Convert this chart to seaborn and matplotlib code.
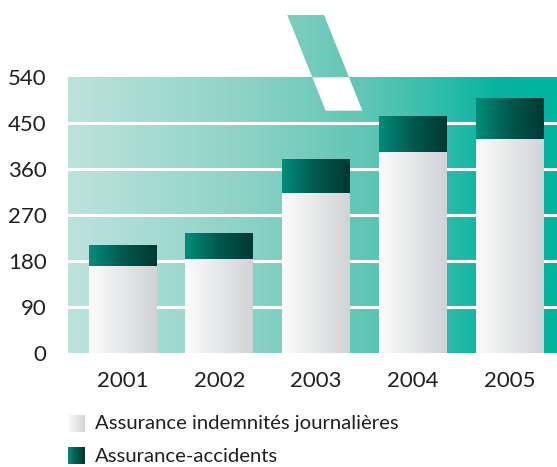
import numpy as np
import pandas as pd
import matplotlib
matplotlib.use("Agg")
import matplotlib.pyplot as plt
from matplotlib.colors import LinearSegmentedColormap
from matplotlib.patches import Polygon
import seaborn as sns

# Data (millions)
years = ["2001", "2002", "2003", "2004", "2005"]
indemnites = [170, 184, 313, 393, 419]
accidents = [41, 51, 67, 71, 80]
yticks = [0, 90, 180, 270, 360, 450, 540]
label_indemnites = "Assurance indemnités journalières"
label_accidents = "Assurance-accidents"

df = pd.DataFrame({
    "annee": years,
    "indemnites": indemnites,
    "total": [a + b for a, b in zip(indemnites, accidents)],
})

sns.set_theme(style="white")
plt.rcParams["font.family"] = ["Lato", "DejaVu Sans"]
TXT = "#231f20"

W, H = 557, 467
fig = plt.figure(figsize=(W / 100, H / 100), dpi=100)
fig.patch.set_facecolor("white")

# plot area in pixels
L, R, T, B = 68, 557, 77.3, 352.7
ax = fig.add_axes([L / W, 1 - B / H, (R - L) / W, (B - T) / H])

bg_cmap = LinearSegmentedColormap.from_list(
    "bg",
    [(0.0, "#bde3dd"), (0.37, "#8bd2c5"), (0.62, "#5dc5b4"),
     (0.76, "#30bdab"), (0.88, "#06b49f"), (1.0, "#00b39c")],
)
white_cmap = LinearSegmentedColormap.from_list("wb", ["#fcfcfc", "#e6e7e8", "#d2d3d5"])
green_cmap = LinearSegmentedColormap.from_list("gb", ["#008d7b", "#00594d", "#003833"])
hgrad = np.linspace(0, 1, 256).reshape(1, -1)

# stacked bars: full total first, the daily-allowance part over it
sns.barplot(data=df, x="annee", y="total", color="#00594d", width=0.70,
            ax=ax, saturation=1, linewidth=0, zorder=2)
n_tot = len(ax.patches)
sns.barplot(data=df, x="annee", y="indemnites", color="#e6e7e8", width=0.70,
            ax=ax, saturation=1, linewidth=0, zorder=3)

xlim = (-0.562, 4.485)
ylim = (0, 540)

# background gradient across the plotting area
ax.imshow(hgrad, extent=[xlim[0], xlim[1], ylim[0], ylim[1]], cmap=bg_cmap,
          aspect="auto", zorder=0, interpolation="bicubic")
for v in yticks[1:-1]:
    ax.axhline(v, color="white", lw=2.2, zorder=1)

# horizontal gradient fill inside each bar
for i, p in enumerate(ax.patches):
    x, y, w, h = p.get_x(), p.get_y(), p.get_width(), p.get_height()
    cmap = green_cmap if i < n_tot else white_cmap
    im = ax.imshow(hgrad, extent=[x, x + w, y, y + h], cmap=cmap,
                   aspect="auto", zorder=p.get_zorder() + 0.1,
                   interpolation="bicubic")
    im.set_clip_path(p)
    p.set_facecolor("none")

ax.set_xlim(*xlim)
ax.set_ylim(*ylim)
ax.set_yticks(yticks)
ax.set_yticklabels([str(v) for v in yticks])
ax.set_xlabel("")
ax.set_ylabel("")
ax.tick_params(axis="both", length=0, labelsize=16, colors=TXT)
ax.tick_params(axis="y", pad=15.5)
ax.tick_params(axis="x", pad=13.5)
for s in ax.spines.values():
    s.set_visible(False)

# overlay in pixel coordinates: axis-break marker and legend
deco = fig.add_axes([0, 0, 1, 1], zorder=5)
deco.set_xlim(0, W)
deco.set_ylim(H, 0)
deco.axis("off")
deco.patch.set_alpha(0)

k = 25.0 / 62.3
top_piece = Polygon([(287.3, 15), (324, 15), (324 + k * (T - 15), T), (287.3 + k * (T - 15), T)],
                    closed=True, facecolor="none", edgecolor="none")
deco.add_patch(top_piece)
im = deco.imshow(hgrad, extent=[L, R, T, 15], cmap=bg_cmap, aspect="auto",
                 interpolation="bicubic")
im.set_clip_path(top_piece)
x0 = 287.3 + k * (T - 15)
y1 = 110.7
deco.add_patch(Polygon([(x0, T), (x0 + 36.7, T), (x0 + 36.7 + k * (y1 - T), y1),
                        (x0 + k * (y1 - T), y1)], closed=True,
                       facecolor="white", edgecolor="none"))

# legend
for (yy, cmap, lab) in [(415, white_cmap, label_indemnites),
                        (447.7, green_cmap, label_accidents)]:
    deco.imshow(hgrad, extent=[68, 85, yy + 16.7, yy], cmap=cmap, aspect="auto",
                interpolation="bicubic")
    deco.text(95, yy + 8.8, lab, fontsize=14.6, color=TXT, va="center", ha="left")
deco.set_xlim(0, W)
deco.set_ylim(H, 0)

fig.savefig("out.png", dpi=100)
